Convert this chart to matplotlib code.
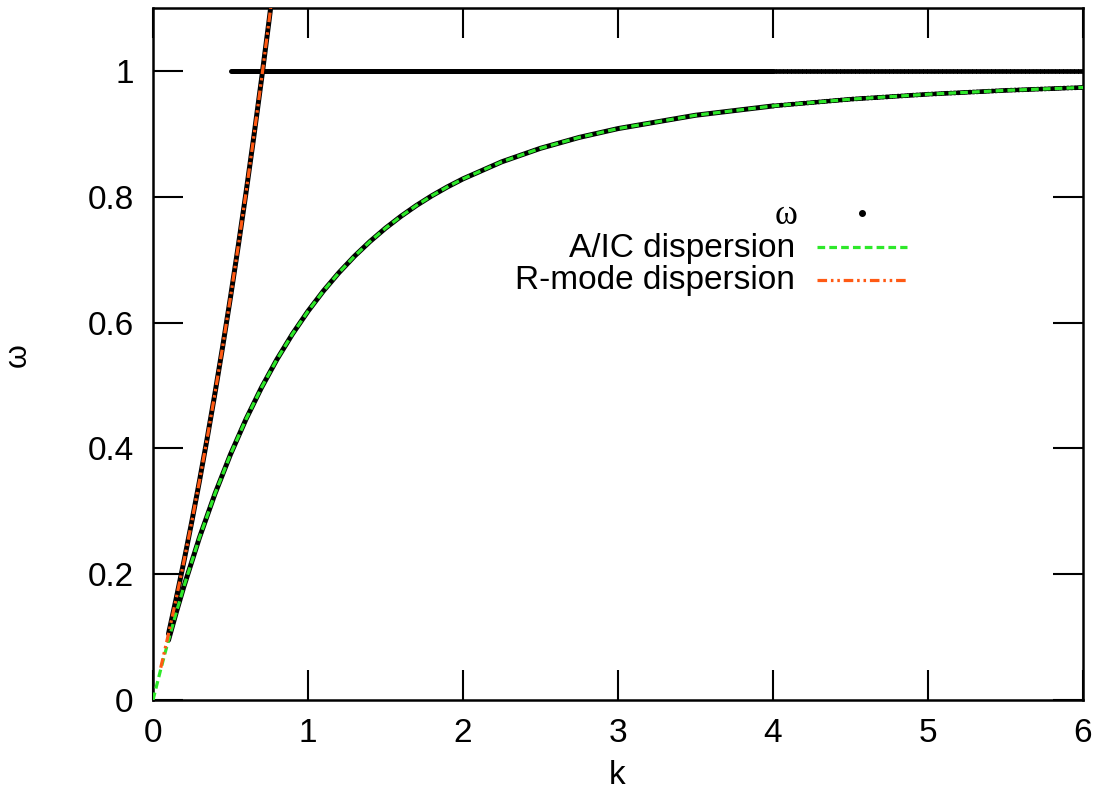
import numpy as np
import matplotlib
matplotlib.use("Agg")
import matplotlib.pyplot as plt
from matplotlib.lines import Line2D

plt.rcParams['font.family'] = ['Liberation Sans', 'DejaVu Sans']

# A/IC (Alfven / ion-cyclotron) branch
k_acic = [0.0, 0.05, 0.1, 0.15, 0.2, 0.3, 0.4, 0.5, 0.6, 0.7, 0.8, 0.9, 1.0,
          1.1, 1.2, 1.3, 1.4, 1.5, 1.6, 1.7, 1.8, 1.9, 2.0, 2.25, 2.5, 2.75,
          3.0, 3.5, 4.0, 4.5, 5.0, 5.5, 6.0]
w_acic = [0.0, 0.0488, 0.0951, 0.1392, 0.1810, 0.2584, 0.3279, 0.3904, 0.4464,
          0.4966, 0.5416, 0.5819, 0.6180, 0.6504, 0.6794, 0.7055, 0.7289,
          0.7500, 0.7690, 0.7862, 0.8017, 0.8157, 0.8284, 0.8555, 0.8770,
          0.8943, 0.9083, 0.9295, 0.9443, 0.9550, 0.9629, 0.9690, 0.9737]

# R-mode (whistler) branch
k_r = [0.05, 0.1, 0.15, 0.2, 0.25, 0.3, 0.35, 0.4, 0.45, 0.5, 0.55, 0.6,
       0.65, 0.7, 0.75, 0.8]
w_r = [0.0513, 0.1051, 0.1617, 0.2210, 0.2832, 0.3484, 0.4166, 0.4879,
       0.5625, 0.6404, 0.7217, 0.8064, 0.8947, 0.9866, 1.0823, 1.1816]

# numerically found roots omega(k)
k_root_acic = k_acic[2:]
w_root_acic = w_acic[2:]
k_root_r = k_r[1:]
w_root_r = w_r[1:]
k_root_one = [0.5, 4.0, 6.0]
w_root_one = [1.0, 1.0, 1.0]

xticks = [0, 1, 2, 3, 4, 5, 6]
yticks = [0, 0.2, 0.4, 0.6, 0.8, 1.0]
yticklabels = ['0', '0.2', '0.4', '0.6', '0.8', '1']

W, H = 1103, 801
fig = plt.figure(figsize=(W / 100, H / 100), dpi=100)
ax = fig.add_axes([153 / W, 1 - 700 / H, 930 / W, 692 / H])

root_kw = dict(color='black', lw=3.6, zorder=2, solid_capstyle='round')
dot_kw = dict(color='black', lw=3.4, zorder=2, linestyle=(0, (0.35, 0.45)),
              dash_capstyle='round')


def draw_roots(k, w):
    k = np.asarray(k)
    w = np.asarray(w)
    near = k <= 4.0
    ax.plot(k[near], w[near], **root_kw)
    far = k >= 4.0
    ax.plot(k[far], w[far], **dot_kw)


draw_roots(k_root_acic, w_root_acic)
draw_roots(k_root_one, w_root_one)
ax.plot(k_root_r, w_root_r, **root_kw)

green = '#2ee82a'
orange = '#ff5a14'
ax.plot(k_acic, w_acic, color=green, lw=2.3, linestyle=(0, (2.4, 1.3)),
        zorder=3)
ax.plot(k_r, w_r, color=orange, lw=2.3,
        linestyle=(0, (3.0, 1.2, 0.8, 1.2, 0.8, 1.2)), zorder=4)

ax.set_xlim(0, 6)
ax.set_ylim(0, 1.1)
ax.set_xticks(xticks)
ax.set_xticklabels([str(t) for t in xticks])
ax.set_yticks(yticks)
ax.set_yticklabels(yticklabels)
ax.tick_params(direction='in', length=21.6, width=1.5, labelsize=24,
               top=True, right=True)
ax.tick_params(axis='x', pad=13)
ax.tick_params(axis='y', pad=14)
for s in ax.spines.values():
    s.set_linewidth(1.8)

fig.text(18 / W, 1 - 355 / H, 'ω', rotation=90, ha='center', va='center',
         fontsize=22)
fig.text(617 / W, 1 - 775 / H, 'k', ha='center', va='center', fontsize=24)

# key, right-aligned text with samples to its right
tr = fig.transFigure
fig.text(797 / W, 1 - 216 / H, 'ω', ha='right', va='center', fontsize=25,
         family=['Liberation Serif', 'DejaVu Serif'])
fig.add_artist(Line2D([862 / W], [1 - 213 / H], transform=tr, color='black',
                      marker='o', markersize=4, linestyle='none'))
fig.text(795 / W, 1 - 248 / H, 'A/IC dispersion', ha='right', va='center',
         fontsize=24)
fig.add_artist(Line2D([817 / W, 907 / W], [1 - 247 / H] * 2, transform=tr,
                      color=green, lw=2.3, linestyle=(0, (2.4, 1.3))))
fig.text(795 / W, 1 - 281 / H, 'R-mode dispersion', ha='right', va='center',
         fontsize=24)
fig.add_artist(Line2D([817 / W, 907 / W], [1 - 280 / H] * 2, transform=tr,
                      color=orange, lw=2.3,
                      linestyle=(0, (3.0, 1.2, 0.8, 1.2, 0.8, 1.2))))

fig.savefig('out.png', dpi=100)
